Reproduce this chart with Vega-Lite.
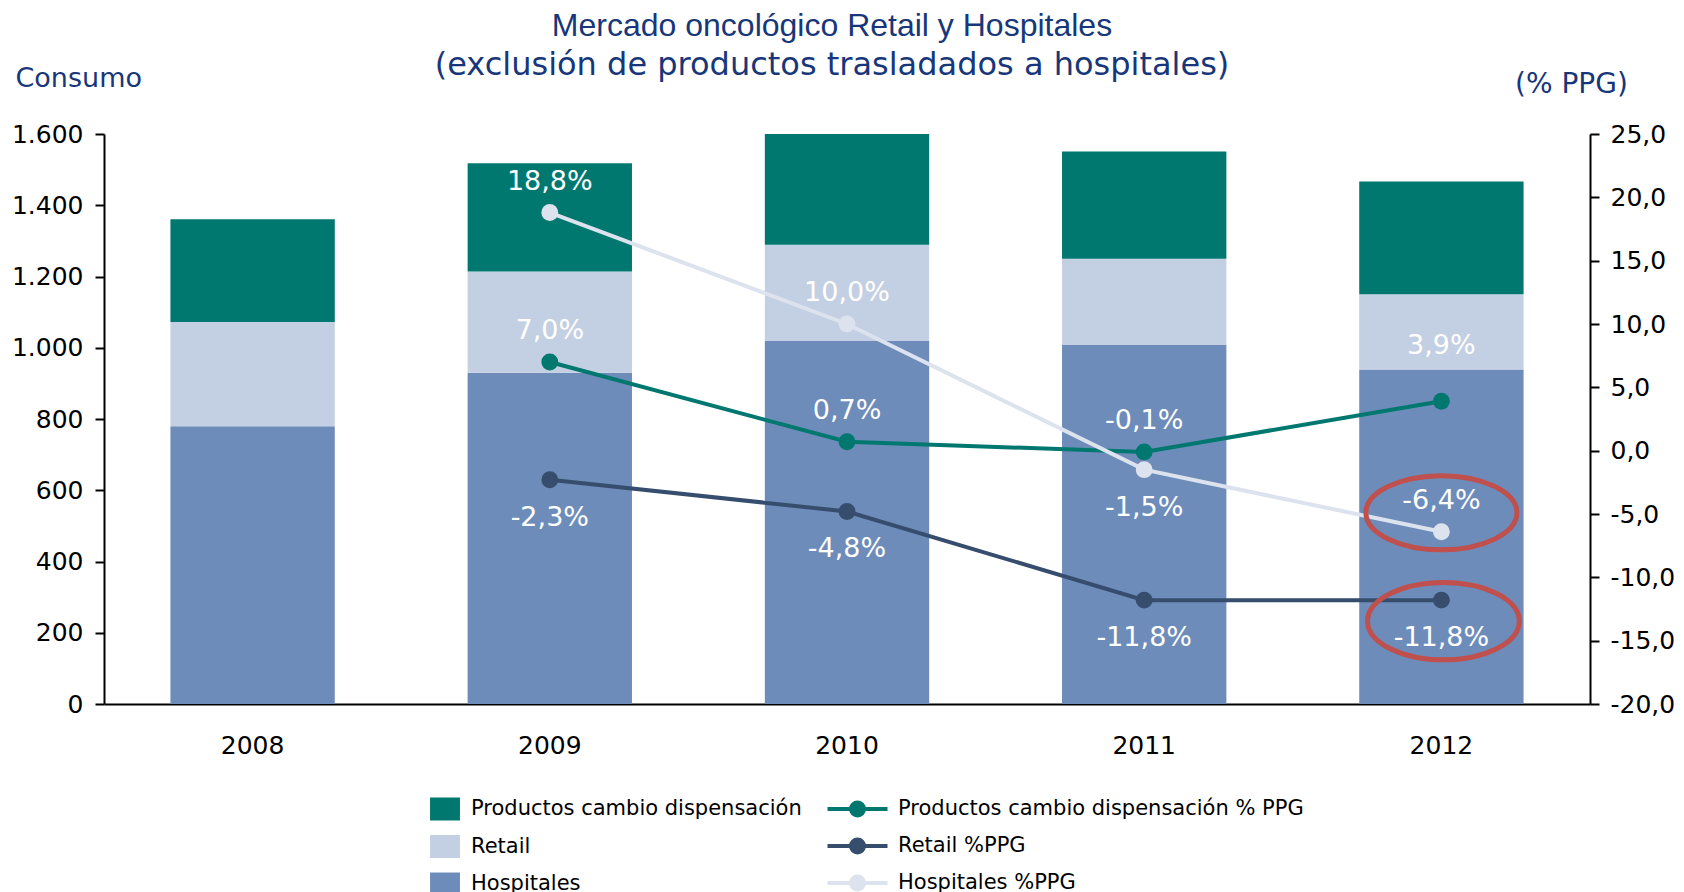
{
  "$schema": "https://vega.github.io/schema/vega-lite/v6.json",
  "width": 1486,
  "height": 570,
  "autosize": {"type": "none"},
  "padding": {"left": 104, "top": 134, "right": 94, "bottom": 188},
  "background": "#ffffff",
  "title": {
    "text": "Mercado oncológico Retail y Hospitales",
    "subtitle": "(exclusión de productos trasladados a hospitales)",
    "anchor": "middle",
    "frame": "group",
    "font": "Liberation Sans",
    "fontSize": 32,
    "fontWeight": "normal",
    "color": "#17377A",
    "subtitleFont": "DejaVu Sans",
    "subtitleFontSize": 32,
    "subtitleColor": "#17377A",
    "subtitlePadding": 7,
    "offset": -18,
    "dx": -15
  },
  "datasets": {
    "barras": [
      {"anio": "2008", "serie": "Hospitales", "consumo": 780, "orden": 1},
      {"anio": "2008", "serie": "Retail", "consumo": 292, "orden": 2},
      {"anio": "2008", "serie": "Productos cambio dispensación", "consumo": 289, "orden": 3},
      {"anio": "2009", "serie": "Hospitales", "consumo": 930, "orden": 1},
      {"anio": "2009", "serie": "Retail", "consumo": 284, "orden": 2},
      {"anio": "2009", "serie": "Productos cambio dispensación", "consumo": 304, "orden": 3},
      {"anio": "2010", "serie": "Hospitales", "consumo": 1019, "orden": 1},
      {"anio": "2010", "serie": "Retail", "consumo": 270, "orden": 2},
      {"anio": "2010", "serie": "Productos cambio dispensación", "consumo": 311, "orden": 3},
      {"anio": "2011", "serie": "Hospitales", "consumo": 1008, "orden": 1},
      {"anio": "2011", "serie": "Retail", "consumo": 242, "orden": 2},
      {"anio": "2011", "serie": "Productos cambio dispensación", "consumo": 301, "orden": 3},
      {"anio": "2012", "serie": "Hospitales", "consumo": 939, "orden": 1},
      {"anio": "2012", "serie": "Retail", "consumo": 211, "orden": 2},
      {"anio": "2012", "serie": "Productos cambio dispensación", "consumo": 317, "orden": 3}
    ],
    "lineas": [
      {"anio": "2009", "serie": "Productos cambio dispensación % PPG", "ppg": 0.070},
      {"anio": "2010", "serie": "Productos cambio dispensación % PPG", "ppg": 0.007},
      {"anio": "2011", "serie": "Productos cambio dispensación % PPG", "ppg": -0.001},
      {"anio": "2012", "serie": "Productos cambio dispensación % PPG", "ppg": 0.039},
      {"anio": "2009", "serie": "Retail %PPG", "ppg": -0.023},
      {"anio": "2010", "serie": "Retail %PPG", "ppg": -0.048},
      {"anio": "2011", "serie": "Retail %PPG", "ppg": -0.118},
      {"anio": "2012", "serie": "Retail %PPG", "ppg": -0.118},
      {"anio": "2009", "serie": "Hospitales %PPG", "ppg": 0.188},
      {"anio": "2010", "serie": "Hospitales %PPG", "ppg": 0.100},
      {"anio": "2011", "serie": "Hospitales %PPG", "ppg": -0.015},
      {"anio": "2012", "serie": "Hospitales %PPG", "ppg": -0.064}
    ]
  },
  "layer": [
    {
      "data": {"name": "barras"},
      "mark": {"type": "bar", "opacity": 1},
      "encoding": {
        "x": {
          "field": "anio",
          "type": "nominal",
          "sort": "ascending",
          "scale": {"paddingInner": 0.447, "paddingOuter": 0.2235},
          "axis": {
            "title": null,
            "labelAngle": 0,
            "ticks": false,
            "tickSize": 0,
            "labelPadding": 29,
            "labelFontSize": 25,
            "labelColor": "#000000",
            "domainColor": "#000000",
            "domainWidth": 2
          }
        },
        "y": {
          "field": "consumo",
          "type": "quantitative",
          "stack": "zero",
          "scale": {"domain": [0, 1600], "nice": false},
          "axis": {
            "orient": "left",
            "values": [0, 200, 400, 600, 800, 1000, 1200, 1400, 1600],
            "format": ",.0f",
            "grid": false,
            "title": "Consumo",
            "titleAngle": 0,
            "titleAlign": "left",
            "titleBaseline": "alphabetic",
            "titleX": -89,
            "titleY": -48,
            "titleFont": "DejaVu Sans",
            "titleFontSize": 27,
            "titleFontWeight": "normal",
            "titleColor": "#17377A",
            "labelFontSize": 25,
            "labelColor": "#000000",
            "labelPadding": 12,
            "tickSize": 9,
            "tickWidth": 2,
            "tickColor": "#000000",
            "domainColor": "#000000",
            "domainWidth": 2
          }
        },
        "color": {
          "field": "serie",
          "type": "nominal",
          "scale": {
            "domain": ["Productos cambio dispensación", "Retail", "Hospitales"],
            "range": ["#00786F", "#C3CFE2", "#6D8CB9"]
          },
          "legend": {
            "orient": "none",
            "legendX": 329.5,
            "legendY": 663.5,
            "title": null,
            "symbolType": "M-1.3,-1H1.3V1H-1.3Z",
            "symbolSize": 529,
            "symbolStrokeWidth": 0,
            "symbolOpacity": 1,
            "labelOffset": 14.5,
            "rowPadding": 14.5,
            "labelFont": "DejaVu Sans",
            "labelFontSize": 21,
            "labelColor": "#000000",
            "labelLimit": 0,
            "padding": 0
          }
        },
        "order": {"field": "orden", "type": "quantitative", "sort": "ascending"}
      }
    },
    {
      "data": {"name": "lineas"},
      "encoding": {
        "x": {
          "field": "anio",
          "type": "nominal",
          "sort": "ascending",
          "axis": {
            "title": null,
            "labelAngle": 0,
            "ticks": false,
            "tickSize": 0,
            "labelPadding": 29,
            "labelFontSize": 25,
            "labelColor": "#000000",
            "domainColor": "#000000",
            "domainWidth": 2
          }
        },
        "y": {
          "field": "ppg",
          "type": "quantitative",
          "scale": {"domain": [-0.2, 0.25], "nice": false, "zero": false},
          "axis": {
            "orient": "right",
            "values": [-0.2, -0.15, -0.1, -0.05, 0, 0.05, 0.1, 0.15, 0.2, 0.25],
            "labelExpr": "format(datum.value * 100, '.1f')",
            "grid": false,
            "title": "(% PPG)",
            "titleAngle": 0,
            "titleAlign": "left",
            "titleBaseline": "alphabetic",
            "titleX": -75.5,
            "titleY": -42,
            "titleFont": "DejaVu Sans",
            "titleFontSize": 28,
            "titleFontWeight": "normal",
            "titleColor": "#17377A",
            "labelFontSize": 25,
            "labelColor": "#000000",
            "labelPadding": 11,
            "tickSize": 9,
            "tickWidth": 2,
            "tickColor": "#000000",
            "domainColor": "#000000",
            "domainWidth": 2
          }
        }
      },
      "layer": [
        {
          "mark": {"type": "line", "strokeWidth": 4, "opacity": 1},
          "encoding": {
            "stroke": {
              "field": "serie",
              "type": "nominal",
              "scale": {
                "domain": ["Productos cambio dispensación % PPG", "Retail %PPG", "Hospitales %PPG"],
                "range": ["#00786F", "#364D6E", "#DCE2EE"]
              },
              "legend": {
                "orient": "none",
                "legendX": 741.5,
                "legendY": 663,
                "title": null,
                "symbolType": "M-3,0H3M0.65,0A0.65,0.65 0 1,1 -0.65,0A0.65,0.65 0 1,1 0.65,0Z",
                "symbolSize": 400,
                "symbolStrokeWidth": 4,
                "symbolOpacity": 1,
                "labelOffset": 28.5,
                "rowPadding": 7,
                "labelFont": "DejaVu Sans",
                "labelFontSize": 21,
                "labelColor": "#000000",
                "labelLimit": 0,
                "padding": 0
              }
            }
          }
        },
        {
          "mark": {"type": "point", "filled": true, "size": 285, "opacity": 1, "shape": "circle"},
          "encoding": {
            "fill": {
              "field": "serie",
              "type": "nominal",
              "scale": {
                "domain": ["Productos cambio dispensación % PPG", "Retail %PPG", "Hospitales %PPG"],
                "range": ["#00786F", "#364D6E", "#DCE2EE"]
              },
              "legend": {
                "orient": "none",
                "legendX": 741.5,
                "legendY": 663,
                "title": null,
                "symbolType": "M-3,0H3M0.65,0A0.65,0.65 0 1,1 -0.65,0A0.65,0.65 0 1,1 0.65,0Z",
                "symbolSize": 400,
                "symbolStrokeWidth": 4,
                "symbolOpacity": 1,
                "labelOffset": 28.5,
                "rowPadding": 7,
                "labelFont": "DejaVu Sans",
                "labelFontSize": 21,
                "labelColor": "#000000",
                "labelLimit": 0,
                "padding": 0
              }
            }
          }
        },
        {
          "transform": [{"filter": "(datum.serie == 'Productos cambio dispensación % PPG' && datum.anio != '2012') || (datum.serie == 'Hospitales %PPG' && datum.anio != '2011')"}],
          "mark": {"type": "text", "dy": -31, "fontSize": 27, "font": "DejaVu Sans", "color": "#FFFFFF", "baseline": "middle", "align": "center"},
          "encoding": {"text": {"field": "ppg", "type": "quantitative", "format": ".1%"}}
        },
        {
          "transform": [{"filter": "datum.serie == 'Productos cambio dispensación % PPG' && datum.anio == '2012'"}],
          "mark": {"type": "text", "dy": -55, "fontSize": 27, "font": "DejaVu Sans", "color": "#FFFFFF", "baseline": "middle", "align": "center"},
          "encoding": {"text": {"field": "ppg", "type": "quantitative", "format": ".1%"}}
        },
        {
          "transform": [{"filter": "datum.serie == 'Retail %PPG' || (datum.serie == 'Hospitales %PPG' && datum.anio == '2011')"}],
          "mark": {"type": "text", "dy": 38, "fontSize": 27, "font": "DejaVu Sans", "color": "#FFFFFF", "baseline": "middle", "align": "center"},
          "encoding": {"text": {"field": "ppg", "type": "quantitative", "format": ".1%"}}
        },
        {
          "transform": [{"filter": "datum.serie == 'Hospitales %PPG' && datum.anio == '2012'"}],
          "mark": {"type": "point", "shape": "M-1,0A1,0.49 0 1,1 1,0A1,0.49 0 1,1 -1,0Z", "size": 22801, "filled": false, "fill": "transparent", "stroke": "#C0504D", "strokeWidth": 5, "opacity": 1, "yOffset": -19}
        },
        {
          "transform": [{"filter": "datum.serie == 'Retail %PPG' && datum.anio == '2012'"}],
          "mark": {"type": "point", "shape": "M-1,0A1,0.51 0 1,1 1,0A1,0.51 0 1,1 -1,0Z", "size": 23012, "filled": false, "fill": "transparent", "stroke": "#C0504D", "strokeWidth": 5, "opacity": 1, "yOffset": 21, "xOffset": 2}
        }
      ]
    }
  ],
  "resolve": {"scale": {"y": "independent"}, "axis": {"y": "independent"}},
  "config": {
    "view": {"stroke": null},
    "font": "DejaVu Sans",
    "locale": {
      "number": {"decimal": ",", "thousands": ".", "grouping": [3], "currency": ["", " €"], "minus": "-", "percent": "%"}
    },
    "axis": {"grid": false, "labelFont": "DejaVu Sans"},
    "legend": {"labelFont": "DejaVu Sans", "padding": 0}
  }
}
